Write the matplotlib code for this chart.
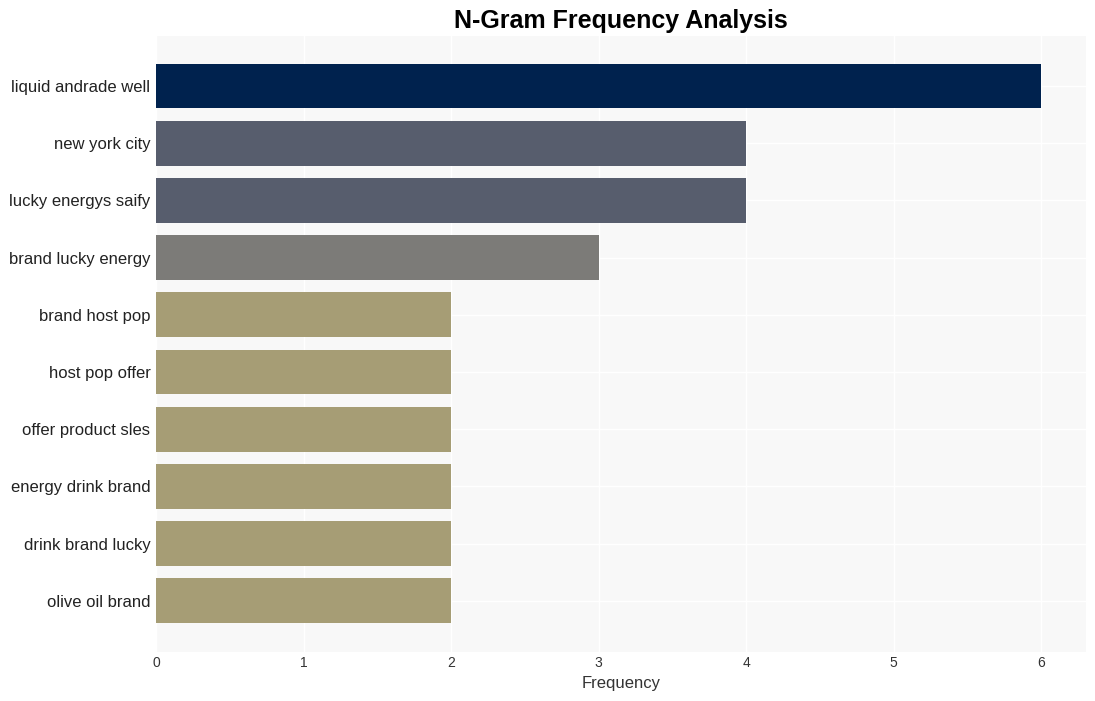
import matplotlib
matplotlib.use("Agg")
import matplotlib.pyplot as plt

plt.rcParams['font.family'] = ['Liberation Sans', 'DejaVu Sans']

categories = ["liquid andrade well", "new york city", "lucky energys saify",
              "brand lucky energy", "brand host pop", "host pop offer",
              "offer product sles", "energy drink brand", "drink brand lucky",
              "olive oil brand"]
values = [6, 4, 4, 3, 2, 2, 2, 2, 2, 2]
colors = ["#00224e", "#575d6d", "#575d6d", "#7c7b78", "#a69d75",
          "#a69d75", "#a69d75", "#a69d75", "#a69d75", "#a69d75"]
xticks = [0, 1, 2, 3, 4, 5, 6]

fig = plt.figure(figsize=(10.95, 7.01), dpi=100)
ax = fig.add_axes([156/1095, 1-652/701, (1086-156)/1095, (652-36)/701])
ax.set_facecolor("#f8f8f8")
pos = list(range(len(categories)))
ax.barh(pos, values, height=0.78, color=colors, zorder=2)
ax.set_yticks(pos)
ax.set_yticklabels(categories, fontsize=12, color="#222222")
ax.set_xticks(xticks)
ax.set_xticklabels([str(t) for t in xticks], fontsize=10, color="#333333")
ax.set_xlim(0, 6.305)
ax.set_ylim(9.895, -0.874)
ax.grid(True, color="white", linewidth=1, zorder=0)
ax.set_axisbelow(True)
for s in ax.spines.values():
    s.set_visible(False)
ax.tick_params(axis='y', length=0, pad=4)
ax.tick_params(axis='x', length=0, pad=3)
ax.set_xlabel("Frequency", fontsize=12, color="#333333", labelpad=4)
fig.text(621/1095, 1-21/701, "N-Gram Frequency Analysis", ha="center", va="center",
         fontsize=18, fontweight="bold")
fig.savefig("out.png", dpi=100, facecolor="white")
